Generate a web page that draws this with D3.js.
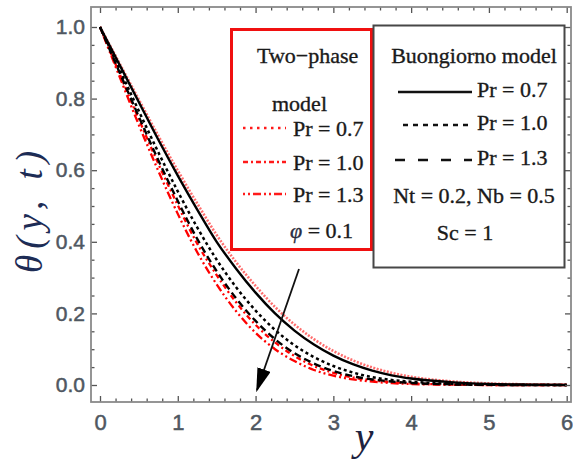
<!DOCTYPE html>
<html>
<head>
<meta charset="utf-8">
<script src="https://cdn.jsdelivr.net/npm/d3@7"></script>
<style>
    html, body { margin: 0; padding: 0; background: #fff; }
    #chart { width: 573px; height: 466px; }
</style>
</head>
<body>
<div id="chart"></div>
<script>
// Sample positions along y
const yValues = [0, 0.25, 0.5, 0.75, 1, 1.25, 1.5, 1.75, 2, 2.25, 2.5, 2.75, 3, 3.25, 3.5, 3.75, 4, 4.5, 5, 5.5, 6];

// Buongiorno model
const buongiorno07 = [1.0, 0.895, 0.79, 0.685, 0.585, 0.49, 0.40, 0.325, 0.258, 0.20, 0.152, 0.113, 0.082, 0.058, 0.040, 0.027, 0.018, 0.008, 0.003, 0.001, 0.0];
const buongiorno10 = [1.0, 0.883, 0.765, 0.650, 0.541, 0.440, 0.350, 0.273, 0.208, 0.154, 0.111, 0.078, 0.053, 0.035, 0.022, 0.014, 0.0092, 0.0032, 0.001, 0, 0];
const buongiorno13 = [1.0, 0.874, 0.749, 0.628, 0.514, 0.408, 0.318, 0.242, 0.179, 0.128, 0.089, 0.060, 0.039, 0.025, 0.0155, 0.0097, 0.0057, 0.0019, 0.0003, 0, 0];

// Two-phase model
const twoPhase07 = [1.0, 0.899, 0.797, 0.696, 0.599, 0.507, 0.419, 0.343, 0.277, 0.218, 0.169, 0.128, 0.095, 0.069, 0.049, 0.034, 0.023, 0.0105, 0.0044, 0.0018, 0.0004];
const twoPhase10 = [1.0, 0.870, 0.742, 0.618, 0.502, 0.395, 0.307, 0.231, 0.168, 0.119, 0.081, 0.053, 0.034, 0.0212, 0.013, 0.008, 0.0046, 0.0014, 0, 0, 0];
const twoPhase13 = [1.0, 0.862, 0.726, 0.598, 0.478, 0.371, 0.281, 0.206, 0.146, 0.100, 0.067, 0.042, 0.026, 0.0157, 0.0094, 0.0053, 0.0028, 0.0007, 0, 0, 0];

// Ticks
const xMajorTicks = [0, 1, 2, 3, 4, 5, 6];
const yMajorTicks = [0, 0.2, 0.4, 0.6, 0.8, 1.0];

const seriesList = [
    { values: twoPhase07, color: '#ff3030', width: 2.6, dash: '2,1.5', opacity: 0.7 },
    { values: twoPhase10, color: '#ff0000', width: 2.3, dash: '5,3,2,3', opacity: 1 },
    { values: twoPhase13, color: '#ff0000', width: 2.3, dash: '2,3,2,3,8,3', opacity: 1 },
    { values: buongiorno13, color: '#000', width: 2.4, dash: '7,4', opacity: 1 },
    { values: buongiorno10, color: '#000', width: 2.5, dash: '3,3', opacity: 1 },
    { values: buongiorno07, color: '#000', width: 2.4, dash: null, opacity: 1 }
];

const serif = '"Liberation Serif", "Times New Roman", serif';
const sans = '"Liberation Sans", Arial, sans-serif';

function renderChart() {
    const svg = d3.select('#chart')
        .append('svg')
        .attr('width', 573)
        .attr('height', 466);

    // Frame in pixels
    const left = 91, right = 571, top = 7, bottom = 402;

    const xScale = d3.scaleLinear().domain([0, 6]).range([100, 566.7]);
    const yScale = d3.scaleLinear().domain([0, 1]).range([385, 27]);

    svg.append('clipPath')
        .attr('id', 'plot-clip')
        .append('rect')
        .attr('x', left).attr('y', top)
        .attr('width', right - left).attr('height', bottom - top);

    // Curves
    const line = d3.line()
        .x((d, i) => xScale(yValues[i]))
        .y(d => yScale(d))
        .curve(d3.curveMonotoneX);

    const curves = svg.append('g').attr('clip-path', 'url(#plot-clip)');
    seriesList.forEach(s => {
        curves.append('path')
            .datum(s.values)
            .attr('fill', 'none')
            .attr('stroke', s.color)
            .attr('stroke-width', s.width)
            .attr('stroke-opacity', s.opacity)
            .attr('stroke-dasharray', s.dash)
            .attr('d', line);
    });

    // Minor tick values
    const xMinor = d3.range(0, 6.001, 0.2).filter(v => Math.abs(v - Math.round(v)) > 1e-6);
    const yMinor = d3.range(0, 1.0001, 0.05).filter(v => Math.abs(v * 5 - Math.round(v * 5)) > 1e-6);

    const tickColor = '#555';
    const labelColor = '#4f5761';

    function styleAxis(g) {
        g.select('.domain').remove();
        g.selectAll('.tick line').attr('stroke', tickColor).attr('stroke-width', 1.3);
    }

    // Left axis
    svg.append('g')
        .attr('transform', `translate(${left}, 0)`)
        .call(d3.axisLeft(yScale).tickValues(yMajorTicks).tickSize(-6).tickPadding(6).tickFormat(d3.format('.1f')))
        .call(styleAxis)
        .selectAll('text')
        .attr('fill', labelColor)
        .attr('stroke', labelColor)
        .attr('stroke-width', 0.5)
        .style('font-family', sans)
        .style('font-size', '21px');
    svg.append('g')
        .attr('transform', `translate(${left}, 0)`)
        .call(d3.axisLeft(yScale).tickValues(yMinor).tickSize(-3.5).tickFormat(''))
        .call(styleAxis);

    // Right axis
    svg.append('g')
        .attr('transform', `translate(${right}, 0)`)
        .call(d3.axisRight(yScale).tickValues(yMajorTicks).tickSize(-6).tickFormat(''))
        .call(styleAxis);
    svg.append('g')
        .attr('transform', `translate(${right}, 0)`)
        .call(d3.axisRight(yScale).tickValues(yMinor).tickSize(-3.5).tickFormat(''))
        .call(styleAxis);

    // Bottom axis
    svg.append('g')
        .attr('transform', `translate(0, ${bottom})`)
        .call(d3.axisBottom(xScale).tickValues(xMajorTicks).tickSize(-6).tickPadding(12).tickFormat(d3.format('d')))
        .call(styleAxis)
        .selectAll('text')
        .attr('fill', labelColor)
        .attr('stroke', labelColor)
        .attr('stroke-width', 0.5)
        .style('font-family', sans)
        .style('font-size', '22px');
    svg.append('g')
        .attr('transform', `translate(0, ${bottom})`)
        .call(d3.axisBottom(xScale).tickValues(xMinor).tickSize(-3.5).tickFormat(''))
        .call(styleAxis);

    // Top axis
    svg.append('g')
        .attr('transform', `translate(0, ${top})`)
        .call(d3.axisTop(xScale).tickValues(xMajorTicks).tickSize(-6).tickFormat(''))
        .call(styleAxis);
    svg.append('g')
        .attr('transform', `translate(0, ${top})`)
        .call(d3.axisTop(xScale).tickValues(xMinor).tickSize(-3.5).tickFormat(''))
        .call(styleAxis);

    // Frame
    svg.append('rect')
        .attr('x', left).attr('y', top)
        .attr('width', right - left).attr('height', bottom - top)
        .attr('fill', 'none')
        .attr('stroke', '#8a8a8a')
        .attr('stroke-width', 1.8);

    // Axis titles
    svg.append('text')
        .attr('transform', 'translate(42, 212) rotate(-90)')
        .attr('text-anchor', 'middle')
        .attr('fill', '#1d2c55')
        .attr('textLength', 122)
        .attr('lengthAdjust', 'spacing')
        .style('font-family', serif)
        .style('font-style', 'italic')
        .style('font-size', '37px')
        .text('θ(y, t)');

    svg.append('text')
        .attr('x', 364)
        .attr('y', 450)
        .attr('text-anchor', 'middle')
        .attr('fill', '#1d2340')
        .style('font-family', serif)
        .style('font-style', 'italic')
        .style('font-size', '42px')
        .text('y');

    renderLegends(svg);

    // Arrow showing increasing Pr
    svg.append('defs').append('marker')
        .attr('id', 'arrow-head')
        .attr('viewBox', '0 0 10 10')
        .attr('refX', 9).attr('refY', 5)
        .attr('markerWidth', 24).attr('markerHeight', 14)
        .attr('markerUnits', 'userSpaceOnUse')
        .attr('orient', 'auto')
        .attr('preserveAspectRatio', 'none')
        .append('path')
        .attr('d', 'M0,0 L10,5 L0,10 Z')
        .attr('fill', '#000');

    svg.append('line')
        .attr('x1', 299).attr('y1', 269)
        .attr('x2', 257).attr('y2', 390)
        .attr('stroke', '#111')
        .attr('stroke-width', 1.8)
        .attr('marker-end', 'url(#arrow-head)');
}

/**
 * Draw both legend boxes
 */
function renderLegends(svg) {
    const textColor = '#1a1a1a';

    // Two-phase legend (red box)
    const red = svg.append('g');
    red.append('rect')
        .attr('x', 231.5).attr('y', 29.5)
        .attr('width', 140).attr('height', 220)
        .attr('fill', '#fff')
        .attr('stroke', '#f01010')
        .attr('stroke-width', 3);

    const redRows = [
        { label: 'Pr = 0.7', y: 136, dash: '2.5,4.5' },
        { label: 'Pr = 1.0', y: 170, dash: '5,3,2,3' },
        { label: 'Pr = 1.3', y: 202, dash: '2,3,2,3,8,3' }
    ];

    red.append('text').attr('x', 257).attr('y', 63).text('Two\u2212phase');
    red.append('text').attr('x', 272).attr('y', 111).text('model');
    redRows.forEach(r => {
        red.append('line')
            .attr('x1', 243).attr('x2', 286)
            .attr('y1', r.y - 8).attr('y2', r.y - 8)
            .attr('stroke', '#ff1a1a')
            .attr('stroke-width', 2.4)
            .attr('stroke-dasharray', r.dash);
        red.append('text').attr('x', 293).attr('y', r.y).text(r.label);
    });
    const phi = red.append('text').attr('x', 290).attr('y', 238);
    phi.append('tspan').style('font-style', 'italic').attr('fill', '#2a3050').text('φ');
    phi.append('tspan').text(' = 0.1');

    red.selectAll('text')
        .style('font-family', serif)
        .style('font-size', '22px')
        .attr('stroke', textColor)
        .attr('stroke-width', 0.35)
        .attr('fill', function() { return d3.select(this).attr('fill') || textColor; });

    // Buongiorno legend (gray box)
    const gray = svg.append('g');
    gray.append('rect')
        .attr('x', 373.5).attr('y', 25.5)
        .attr('width', 191).attr('height', 242)
        .attr('fill', '#fff')
        .attr('stroke', '#474747')
        .attr('stroke-width', 2);

    const grayRows = [
        { label: 'Pr = 0.7', y: 97, x1: 398, dash: null },
        { label: 'Pr = 1.0', y: 130, x1: 403, dash: '5,5' },
        { label: 'Pr = 1.3', y: 165, x1: 395, dash: '10,13' }
    ];

    gray.append('text').attr('x', 474).attr('y', 63).attr('text-anchor', 'middle').text('Buongiorno model');
    grayRows.forEach(r => {
        gray.append('line')
            .attr('x1', r.x1).attr('x2', 472)
            .attr('y1', r.y - 5).attr('y2', r.y - 5)
            .attr('stroke', '#111')
            .attr('stroke-width', 2.4)
            .attr('stroke-dasharray', r.dash);
        gray.append('text').attr('x', 477).attr('y', r.y).text(r.label);
    });
    gray.append('text').attr('x', 474).attr('y', 203).attr('text-anchor', 'middle').text('Nt = 0.2, Nb = 0.5');
    gray.append('text').attr('x', 465).attr('y', 240).attr('text-anchor', 'middle').text('Sc = 1');

    gray.selectAll('text')
        .style('font-family', serif)
        .style('font-size', '22px')
        .attr('stroke', textColor)
        .attr('stroke-width', 0.35)
        .attr('fill', textColor);
}

renderChart();
</script>
</body>
</html>
